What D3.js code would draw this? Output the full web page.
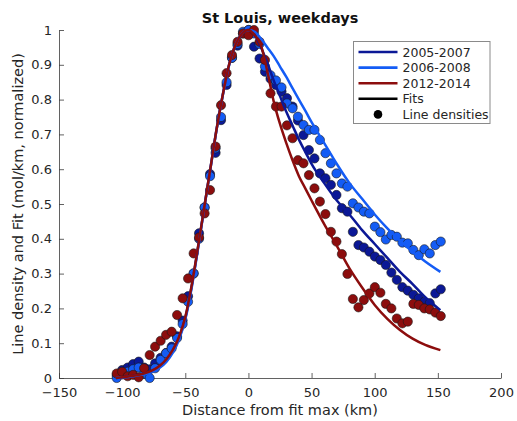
<!DOCTYPE html>
<html>
<head>
<meta charset="utf-8">
<script src="https://cdn.jsdelivr.net/npm/d3@7"></script>
<style>
  html, body { margin: 0; padding: 0; background: #fff; }
  svg { display: block; font-family: "DejaVu Sans", sans-serif; }
</style>
</head>
<body>
<svg id="chart" width="517" height="421"></svg>
<script>
// Sample positions of the line densities (km from fit maximum)
const distKm = [-104.3, -100.0, -95.6, -91.3, -86.9, -82.6, -78.2, -73.9, -69.5, -65.2,
  -60.8, -56.5, -52.1, -47.8, -43.4, -39.1, -34.7, -30.4, -26.0, -21.7,
  -17.3, -13.0, -8.6, -4.3, 0.1, 4.4, 8.8, 13.1, 17.5, 21.8,
  26.2, 30.5, 34.9, 39.2, 43.6, 47.9, 52.3, 56.6, 61.0, 65.3,
  69.7, 74.0, 78.4, 82.7, 87.1, 91.4, 95.8, 100.1, 104.5, 108.8,
  113.2, 117.5, 121.9, 126.2, 130.6, 134.9, 139.3, 143.6, 148.0, 152.3];

// Normalized line densities per period
const dens2005 = [0.008, 0.023, 0.030, 0.040, 0.047, 0.030, 0.025, 0.042, 0.058, 0.072,
  0.090, 0.120, 0.165, 0.235, 0.300, 0.416, 0.490, 0.586, 0.647, 0.741,
  0.842, 0.920, 0.955, 0.990, 1.000, 0.952, 0.918, 0.880, 0.860, 0.842,
  0.823, 0.804, 0.780, 0.740, 0.698, 0.655, 0.631, 0.588, 0.574, 0.555,
  0.526, 0.488, 0.478, 0.420, 0.382, 0.375, 0.363, 0.349, 0.339, 0.325,
  0.303, 0.282, 0.261, 0.251, 0.239, 0.229, 0.219, 0.215, 0.243, 0.255];

const dens2006 = [0.000, 0.010, 0.018, 0.025, 0.030, 0.012, 0.000, 0.028, 0.052, 0.071,
  0.085, 0.115, 0.155, 0.219, 0.301, 0.400, 0.490, 0.580, 0.660, 0.750,
  0.850, 0.920, 0.960, 0.995, 1.000, 0.990, 0.960, 0.895, 0.870, 0.855,
  0.835, 0.789, 0.775, 0.751, 0.727, 0.713, 0.713, 0.684, 0.646, 0.617,
  0.588, 0.559, 0.550, 0.502, 0.490, 0.478, 0.473, 0.435, 0.419, 0.398,
  0.411, 0.406, 0.389, 0.387, 0.368, 0.353, 0.370, 0.358, 0.382, 0.392];

const dens2012 = [0.013, 0.018, 0.005, 0.009, 0.002, 0.028, 0.066, 0.090, 0.107, 0.124,
  0.133, 0.181, 0.229, 0.286, 0.358, 0.404, 0.473, 0.540, 0.665, 0.784,
  0.876, 0.928, 0.966, 0.990, 0.985, 1.000, 0.966, 0.914, 0.818, 0.780,
  0.780, 0.726, 0.689, 0.626, 0.617, 0.583, 0.545, 0.507, 0.471, 0.420,
  0.392, 0.356, 0.299, 0.227, 0.203, 0.224, 0.243, 0.261, 0.245, 0.213,
  0.200, 0.171, 0.157, 0.162, 0.213, 0.210, 0.200, 0.197, 0.188, 0.178];

// Fitted curves, sampled along distance
const fitKm = [-105, -100, -95, -90, -85, -80, -75, -70, -65, -60,
  -55, -50, -45, -40, -35, -30, -25, -20, -15, -10,
  -5, 0, 5, 10, 15, 20, 25, 30, 35, 40,
  45, 50, 60, 70, 80, 90, 100, 110, 120, 130, 140, 152];

const fit2005 = [0.000, 0.002, 0.004, 0.007, 0.010, 0.015, 0.022, 0.033, 0.050, 0.076,
  0.114, 0.172, 0.262, 0.373, 0.490, 0.605, 0.720, 0.820, 0.905, 0.960,
  0.990, 1.000, 0.985, 0.950, 0.905, 0.855, 0.810, 0.765, 0.725, 0.685,
  0.650, 0.615, 0.560, 0.510, 0.470, 0.425, 0.385, 0.345, 0.305, 0.270, 0.232, 0.195];

const fit2006 = [0.000, 0.002, 0.003, 0.006, 0.009, 0.013, 0.020, 0.030, 0.046, 0.072,
  0.110, 0.168, 0.258, 0.370, 0.488, 0.603, 0.718, 0.818, 0.903, 0.960,
  0.990, 1.000, 0.995, 0.975, 0.950, 0.925, 0.895, 0.865, 0.832, 0.800,
  0.768, 0.735, 0.675, 0.615, 0.560, 0.515, 0.470, 0.430, 0.395, 0.363, 0.335, 0.305];

const fit2012 = [0.000, 0.002, 0.004, 0.007, 0.011, 0.016, 0.024, 0.036, 0.054, 0.080,
  0.118, 0.175, 0.265, 0.375, 0.490, 0.605, 0.720, 0.820, 0.905, 0.960,
  0.990, 1.000, 0.985, 0.955, 0.880, 0.795, 0.730, 0.675, 0.625, 0.580,
  0.545, 0.510, 0.442, 0.380, 0.315, 0.260, 0.210, 0.170, 0.138, 0.113, 0.095, 0.080];

const periods = ["2005-2007", "2006-2008", "2012-2014"];
const periodColors = ["#0b1896", "#145cf5", "#8c0d0d"];
const xTicks = [-150, -100, -50, 0, 50, 100, 150, 200];
const yTicks = [0, 0.1, 0.2, 0.3, 0.4, 0.5, 0.6, 0.7, 0.8, 0.9, 1];

const series = [
  { name: periods[0], color: periodColors[0], dens: dens2005, fit: fit2005 },
  { name: periods[1], color: periodColors[1], dens: dens2006, fit: fit2006 },
  { name: periods[2], color: periodColors[2], dens: dens2012, fit: fit2012 }
];

const svg = d3.select("#chart");
const margin = { left: 59, right: 16, top: 30, bottom: 43 };
const W = 517, H = 421;

const x = d3.scaleLinear().domain([-150, 200]).range([margin.left, W - margin.right]);
const y = d3.scaleLinear().domain([0, 1]).range([H - margin.bottom, margin.top]);

const axisColor = "#3a3a3a";
const textColor = "#262626";

// Axes with inward ticks
const gx = svg.append("g")
  .attr("transform", `translate(0,${y(0)})`)
  .call(d3.axisBottom(x).tickValues(xTicks).tickSizeInner(-5).tickSizeOuter(0).tickPadding(10)
    .tickFormat(d3.format("d")));
const gy = svg.append("g")
  .attr("transform", `translate(${x(-150)},0)`)
  .call(d3.axisLeft(y).tickValues(yTicks).tickSizeInner(-5).tickSizeOuter(0).tickPadding(7)
    .tickFormat(d => d === 0 || d === 1 ? String(d) : d3.format(".1f")(d)));

[gx, gy].forEach(g => {
  g.select(".domain").attr("stroke", axisColor).attr("stroke-width", 0.8);
  g.selectAll(".tick line").attr("stroke", axisColor).attr("stroke-width", 0.8);
  g.selectAll(".tick text").attr("fill", textColor).attr("font-size", 13)
    .attr("font-family", "DejaVu Sans, sans-serif");
});
gx.selectAll(".tick text").attr("dy", "0.71em");

// Title and axis labels
svg.append("text")
  .attr("x", (x(-150) + x(200)) / 2).attr("y", 23)
  .attr("text-anchor", "middle").attr("font-weight", "bold").attr("font-size", 14.5)
  .attr("fill", "#111").text("St Louis, weekdays");

svg.append("text")
  .attr("x", (x(-150) + x(200)) / 2).attr("y", 415)
  .attr("text-anchor", "middle").attr("font-size", 14.5)
  .attr("fill", textColor).text("Distance from fit max (km)");

svg.append("text")
  .attr("transform", `translate(23,${(y(0) + y(1)) / 2}) rotate(-90)`)
  .attr("text-anchor", "middle").attr("font-size", 14.5)
  .attr("fill", textColor).text("Line density and Fit (mol/km, normalized)");

// Data: densities as dots, fits as smooth curves
const line = d3.line()
  .x((d, i) => x(fitKm[i]))
  .y(d => y(d))
  .curve(d3.curveMonotoneX);

const plot = svg.append("g");
series.forEach(s => {
  plot.append("g").selectAll("circle")
    .data(s.dens)
    .join("circle")
    .attr("cx", (d, i) => x(distKm[i]))
    .attr("cy", d => y(d))
    .attr("r", 4.6)
    .attr("fill", s.color)
    .attr("stroke", "#1a1a1a")
    .attr("stroke-width", 0.6);
});
series.forEach(s => {
  plot.append("path")
    .datum(s.fit)
    .attr("d", line)
    .attr("fill", "none")
    .attr("stroke", s.color)
    .attr("stroke-width", 2.5);
});

// Legend
const lg = svg.append("g").attr("transform", "translate(353.5,41.5)");
lg.append("rect").attr("width", 136.5).attr("height", 82)
  .attr("fill", "#fff").attr("stroke", "#8a8a8a").attr("stroke-width", 1);
const legendItems = [
  { label: periods[0], color: periodColors[0], kind: "line" },
  { label: periods[1], color: periodColors[1], kind: "line" },
  { label: periods[2], color: periodColors[2], kind: "line" },
  { label: "Fits", color: "#000", kind: "line" },
  { label: "Line densities", color: "#000", kind: "dot" }
];
legendItems.forEach((it, i) => {
  const cy = 10.5 + i * 15.6;
  if (it.kind === "line") {
    lg.append("line").attr("x1", 5).attr("x2", 44).attr("y1", cy).attr("y2", cy)
      .attr("stroke", it.color).attr("stroke-width", 2.6);
  } else {
    lg.append("circle").attr("cx", 24.5).attr("cy", cy).attr("r", 4.3).attr("fill", it.color);
  }
  lg.append("text").attr("x", 49).attr("y", cy + 4.5)
    .attr("font-size", 12.5).attr("fill", textColor).text(it.label);
});
</script>
</body>
</html>
